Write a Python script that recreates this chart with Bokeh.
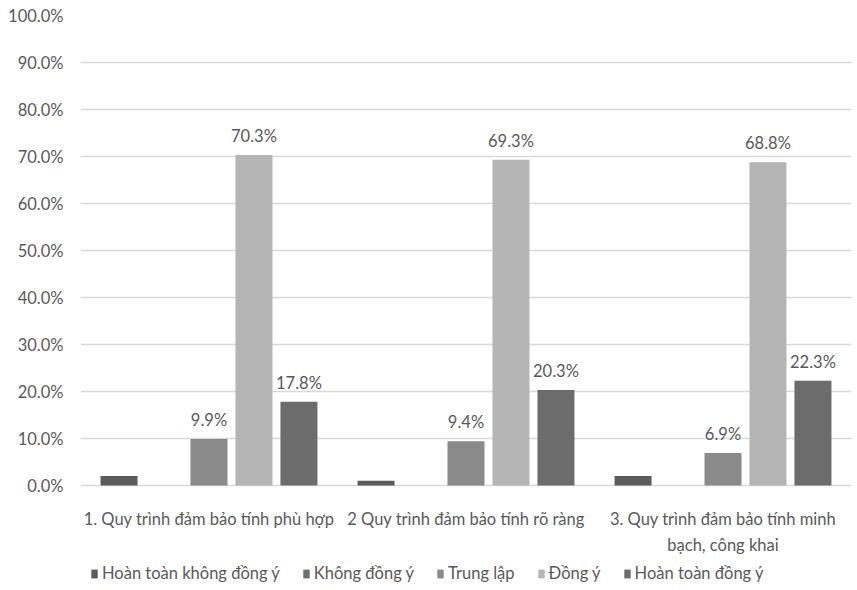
from bokeh.plotting import figure
from bokeh.models import ColumnDataSource, FactorRange, Range1d, NumeralTickFormatter, Legend, LegendItem, LabelSet
from bokeh.transform import dodge
from bokeh.core.properties import value
from bokeh.embed import file_html
from bokeh.resources import INLINE

categories = ["1. Quy trình đảm bảo tính phù hợp",
              "2 Quy trình đảm bảo tính rõ ràng",
              "3. Quy trình đảm bảo tính minh\nbạch, công khai"]
series_names = ["Hoàn toàn không đồng ý", "Không đồng ý", "Trung lập", "Đồng ý", "Hoàn toàn đồng ý"]
hoan_toan_khong_dong_y = [0.020, 0.010, 0.020]
khong_dong_y = [0.0, 0.0, 0.0]
trung_lap = [0.099, 0.094, 0.069]
dong_y = [0.703, 0.693, 0.688]
hoan_toan_dong_y = [0.178, 0.203, 0.223]
labelled = [False, False, True, True, True]
y_ticks = [0.0, 0.1, 0.2, 0.3, 0.4, 0.5, 0.6, 0.7, 0.8, 0.9, 1.0]

values = [hoan_toan_khong_dong_y, khong_dong_y, trung_lap, dong_y, hoan_toan_dong_y]
colors = ["#5c5c5c", "#6f6f6f", "#8a8a8a", "#b5b5b5", "#6c6c6c"]
offsets = [-0.35, -0.175, 0.0, 0.175, 0.35]

FONT = "Lato"
TXT = "#595959"
FS = "16.5px"

p = figure(frame_width=771, frame_height=575, x_range=FactorRange(*categories, range_padding=0),
           y_range=Range1d(-0.2234, 1.0), output_backend="svg", toolbar_location=None,
           min_border_left=80, min_border_right=6, min_border_top=15, min_border_bottom=0)
p.outline_line_color = None
p.background_fill_color = "white"
p.border_fill_color = "white"

items = []
for name, vals, col, off, lab in zip(series_names, values, colors, offsets, labelled):
    src = ColumnDataSource(dict(cat=categories, val=vals,
                                txt=[f"{v*100:.1f}%" for v in vals]))
    r = p.vbar(x=dodge("cat", off, range=p.x_range), top="val", bottom=0, width=0.144,
               source=src, fill_color=col, line_color=None)
    items.append(LegendItem(label=name, renderers=[r]))
    if lab:
        ls = LabelSet(x=dodge("cat", off, range=p.x_range), y="val", text="txt",
                      source=src, text_align="center", text_baseline="bottom",
                      y_offset=9, text_font=value(FONT), text_font_size=value(FS),
                      text_color=value(TXT))
        p.add_layout(ls)

# category labels under the baseline
p.text(x=categories, y=[0.0] * len(categories), text=categories, y_offset=23,
       text_align="center", text_baseline="top", text_line_height=1.3,
       text_font=value(FONT), text_font_size=value(FS), text_color=TXT)

p.yaxis.formatter = NumeralTickFormatter(format="0.0%")
p.yaxis.ticker = y_ticks
p.yaxis.axis_line_color = None
p.yaxis.major_tick_line_color = None
p.yaxis.minor_tick_line_color = None
p.yaxis.major_label_text_font = FONT
p.yaxis.major_label_text_font_size = FS
p.yaxis.major_label_text_color = TXT
p.yaxis.major_label_standoff = 11

p.xaxis.visible = False
p.xgrid.grid_line_color = None
p.ygrid.ticker = y_ticks
p.ygrid.grid_line_color = "#d9d9d9"
p.ygrid.grid_line_width = 1.5

legend = Legend(items=items, orientation="horizontal", location=(10, 7),
                label_text_font=FONT, label_text_font_size=FS, label_text_color=TXT,
                glyph_width=8, glyph_height=11, spacing=22, label_standoff=4,
                label_height=18,
                border_line_color=None, background_fill_alpha=0, padding=2, margin=0)
p.add_layout(legend, "center")

open("out.html", "w").write(file_html(p, INLINE))
